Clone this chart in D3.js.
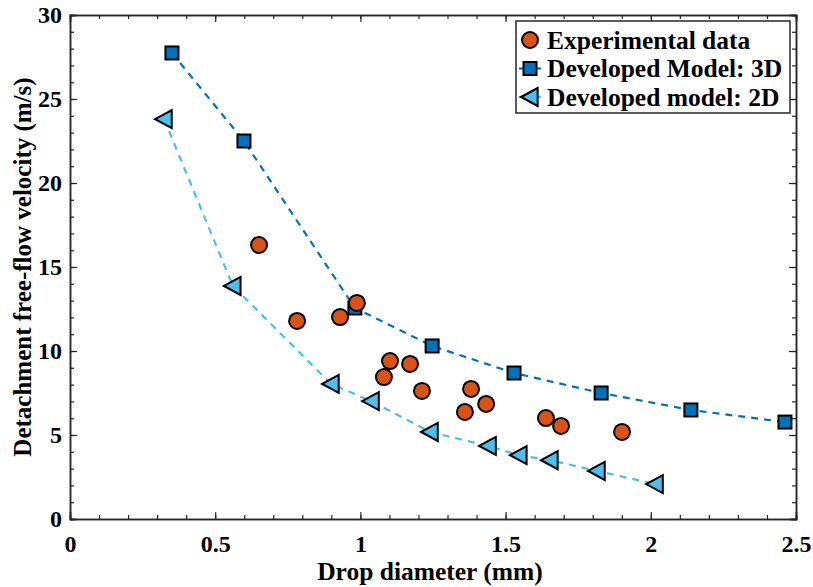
<!DOCTYPE html>
<html>
<head>
<meta charset="utf-8">
<script src="https://cdn.jsdelivr.net/npm/d3@7"></script>
<style>
  body { margin: 0; background: #fff; }
  svg text { font-family: "Liberation Serif", "Times New Roman", serif; font-weight: bold; fill: #000; }
</style>
</head>
<body>
<div id="grafico"></div>
<script>
// dados
const exp_x = [0.651, 0.782, 0.930, 0.988, 1.081, 1.102, 1.171, 1.212, 1.360, 1.381, 1.433, 1.639, 1.691, 1.901];
const exp_y = [16.31, 11.79, 12.02, 12.86, 8.45, 9.40, 9.23, 7.62, 6.37, 7.74, 6.85, 6.01, 5.54, 5.18];

const m3d_x = [0.351, 0.599, 0.981, 1.247, 1.529, 1.829, 2.138, 2.462];
const m3d_y = [27.74, 22.50, 12.56, 10.30, 8.69, 7.50, 6.49, 5.77];

const m2d_x = [0.324, 0.561, 0.899, 1.037, 1.240, 1.440, 1.546, 1.653, 1.815, 2.015];
const m2d_y = [23.80, 13.87, 8.04, 7.02, 5.18, 4.35, 3.80, 3.50, 2.86, 2.08];

const ticks_x = [0, 0.5, 1, 1.5, 2, 2.5];
const ticks_y = [0, 5, 10, 15, 20, 25, 30];

const cor_exp = "#D95319", cor_3d = "#0072BD", cor_2d = "#4DBEEE";

const largura = 813, altura = 587;
const margem = { superior: 15, inferior: 68, direita: 17, esquerda: 70 };

const x = d3.scaleLinear([0, 2.5], [margem.esquerda, largura - margem.direita]);
const y = d3.scaleLinear([0, 30], [altura - margem.inferior, margem.superior]);

const svg = d3.select("#grafico").append("svg")
  .attr("width", largura)
  .attr("height", altura)
  .attr("viewBox", [0, 0, largura, altura]);

// eixos com ticks para dentro (estilo matlab)
const cor_eixo = "#262626";
const x0 = x.range()[0], x1 = x.range()[1], y0 = y.range()[0], y1 = y.range()[1];

function eixo(g, gerador) {
  g.call(gerador).call(g => g.select(".domain").attr("stroke", cor_eixo).attr("stroke-width", 1.5))
    .call(g => g.selectAll(".tick line").attr("stroke", cor_eixo).attr("stroke-width", 1.2));
}
const menores_x = d3.range(0, 26).map(d => d / 10);
const menores_y = d3.range(0, 31);

// ticks menores
svg.append("g").attr("transform", `translate(0,${y0})`).call(g => eixo(g, d3.axisBottom(x).tickValues(menores_x).tickSize(-4).tickFormat("")));
svg.append("g").attr("transform", `translate(0,${y1})`).call(g => eixo(g, d3.axisTop(x).tickValues(menores_x).tickSize(-4).tickFormat("")));
svg.append("g").attr("transform", `translate(${x0},0)`).call(g => eixo(g, d3.axisLeft(y).tickValues(menores_y).tickSize(-4).tickFormat("")));
svg.append("g").attr("transform", `translate(${x1},0)`).call(g => eixo(g, d3.axisRight(y).tickValues(menores_y).tickSize(-4).tickFormat("")));

// ticks maiores + rótulos
svg.append("g").attr("transform", `translate(0,${y0})`)
  .call(g => eixo(g, d3.axisBottom(x).tickValues(ticks_x).tickSize(-7).tickPadding(16).tickFormat(d3.format("~g"))))
  .call(g => g.selectAll("text").attr("font-size", 24).attr("font-family", null));
svg.append("g").attr("transform", `translate(0,${y1})`)
  .call(g => eixo(g, d3.axisTop(x).tickValues(ticks_x).tickSize(-7).tickFormat("")));
svg.append("g").attr("transform", `translate(${x0},0)`)
  .call(g => eixo(g, d3.axisLeft(y).tickValues(ticks_y).tickSize(-7).tickPadding(8)))
  .call(g => g.selectAll("text").attr("font-size", 24).attr("font-family", null));
svg.append("g").attr("transform", `translate(${x1},0)`)
  .call(g => eixo(g, d3.axisRight(y).tickValues(ticks_y).tickSize(-7).tickFormat("")));

// rótulos dos eixos
svg.append("text")
  .attr("x", 430).attr("y", 580)
  .attr("text-anchor", "middle").attr("font-size", 25.5)
  .text("Drop diameter (mm)");
svg.append("text")
  .attr("transform", `translate(31,${(y0 + y1) / 2}) rotate(-90)`)
  .attr("text-anchor", "middle").attr("font-size", 25)
  .text("Detachment free-flow velocity (m/s)");

// linhas tracejadas
const linha = d3.line().x(d => x(d[0])).y(d => y(d[1]));
const pts3d = d3.zip(m3d_x, m3d_y), pts2d = d3.zip(m2d_x, m2d_y), ptsExp = d3.zip(exp_x, exp_y);

svg.append("path").datum(pts3d).attr("d", linha)
  .attr("fill", "none").attr("stroke", cor_3d).attr("stroke-width", 2.2).attr("stroke-dasharray", "7,6");
svg.append("path").datum(pts2d).attr("d", linha)
  .attr("fill", "none").attr("stroke", cor_2d).attr("stroke-width", 2.2).attr("stroke-dasharray", "7,6");

// marcadores
const triangulo = s => `M${-s},0L${s * 0.85},${-s}L${s * 0.85},${s}Z`;

svg.append("g").selectAll("path").data(pts2d).join("path")
  .attr("transform", d => `translate(${x(d[0])},${y(d[1])})`)
  .attr("d", triangulo(9))
  .attr("fill", cor_2d).attr("stroke", "#000").attr("stroke-width", 2).attr("stroke-linejoin", "miter");

svg.append("g").selectAll("rect").data(pts3d).join("rect")
  .attr("x", d => x(d[0]) - 6.5).attr("y", d => y(d[1]) - 6.5)
  .attr("width", 13).attr("height", 13)
  .attr("fill", cor_3d).attr("stroke", "#000").attr("stroke-width", 2);

svg.append("g").selectAll("circle").data(ptsExp).join("circle")
  .attr("cx", d => x(d[0])).attr("cy", d => y(d[1])).attr("r", 8)
  .attr("fill", cor_exp).attr("stroke", "#000").attr("stroke-width", 2);

// legenda
const leg = svg.append("g").attr("transform", "translate(516,21)");
leg.append("rect").attr("width", 274).attr("height", 92)
  .attr("fill", "#fff").attr("stroke", cor_eixo).attr("stroke-width", 1.5);

const itens = [
  { nome: "Experimental data", tipo: "circulo", cor: cor_exp },
  { nome: "Developed Model: 3D", tipo: "quadrado", cor: cor_3d },
  { nome: "Developed model: 2D", tipo: "triangulo", cor: cor_2d }
];
itens.forEach((it, i) => {
  const cy = 19 + i * 28.5;
  const g = leg.append("g").attr("transform", `translate(14,${cy})`);
  if (it.tipo !== "circulo") {
    g.append("line").attr("x1", -11).attr("x2", 11).attr("stroke", it.cor).attr("stroke-width", 2.2);
  }
  if (it.tipo === "circulo") g.append("circle").attr("r", 8).attr("fill", it.cor).attr("stroke", "#000").attr("stroke-width", 2);
  if (it.tipo === "quadrado") g.append("rect").attr("x", -6.5).attr("y", -6.5).attr("width", 13).attr("height", 13)
    .attr("fill", it.cor).attr("stroke", "#000").attr("stroke-width", 2);
  if (it.tipo === "triangulo") g.append("path").attr("d", triangulo(9))
    .attr("fill", it.cor).attr("stroke", "#000").attr("stroke-width", 2);
  leg.append("text").attr("x", 31).attr("y", cy).attr("dy", "0.35em")
    .attr("font-size", 25.5).text(it.nome);
});
</script>
</body>
</html>
